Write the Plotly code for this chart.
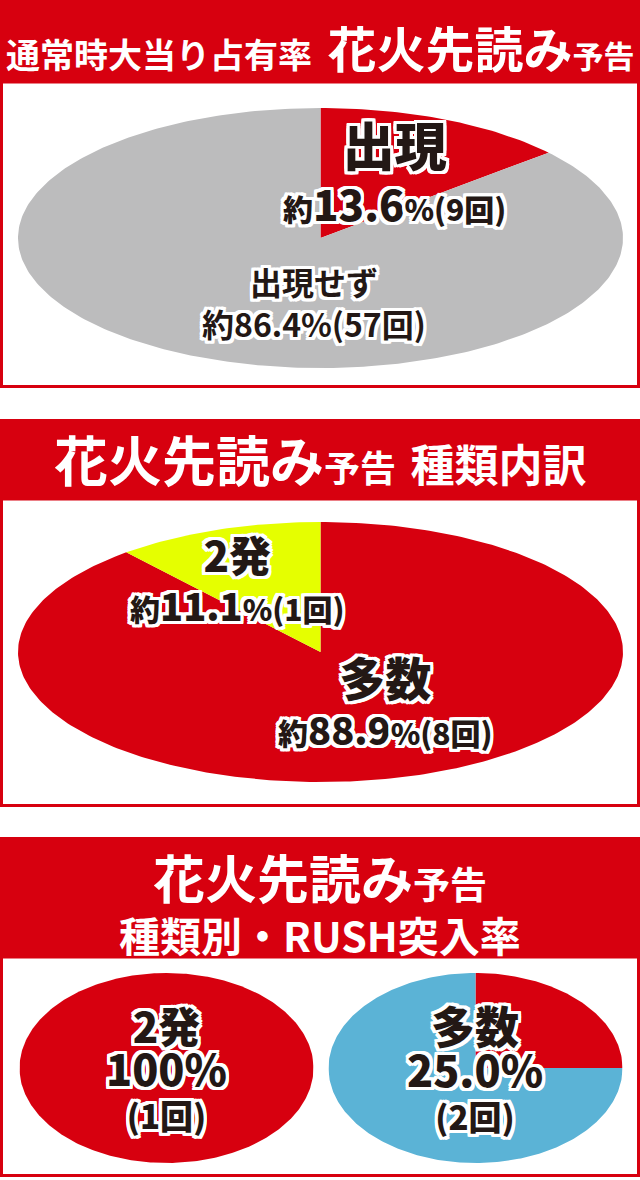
import numpy as np
import plotly.graph_objects as go

# data
occ_labels = ["出現", "出現せず"]
occ_pct = [13.6, 86.4]
occ_count = [9, 57]

kind_labels = ["多数", "2発"]
kind_pct = [88.9, 11.1]
kind_count = [8, 1]

rush_labels = ["2発", "多数"]
rush_2hatsu_pct = [100.0]
rush_2hatsu_count = 1
rush_tasuu_pct = [25.0, 75.0]
rush_tasuu_count = 2

RED = "#D7000F"
GRAY = "#BCBCBD"
YELLOW = "#E5FF00"
BLUE = "#5BB3D6"
INK = "#231815"
FONT = "Noto Sans CJK JP"

W, H = 640, 1180


def px(x):
    return x / W


def py(y):
    return 1 - y / H


OUTLINE = ", ".join(
    f"{dx}px {dy}px 0 #fff"
    for dx in (-3, -2, 0, 2, 3)
    for dy in (-3, -2, 0, 2, 3)
    if (dx, dy) != (0, 0)
)


def wedges(values):
    # slices clockwise from 12 o'clock on a unit circle, axes stretch it to an ellipse
    total = sum(values)
    out = []
    start = 0.0
    for v in values:
        end = start + v / total * 2 * np.pi
        t = np.linspace(start, end, max(int((end - start) * 60), 4))
        x = np.sin(t)
        y = np.cos(t)
        if v < total:
            x = np.concatenate([[0], x, [0]])
            y = np.concatenate([[0], y, [0]])
        out.append((x, y))
        start = end
    return out


fig = go.Figure()

pies = [
    (occ_pct, [RED, GRAY], "x", "y"),
    (kind_pct, [RED, YELLOW], "x2", "y2"),
    (rush_2hatsu_pct, [RED], "x3", "y3"),
    (rush_tasuu_pct, [RED, BLUE], "x4", "y4"),
]
for vals, cols, xa, ya in pies:
    for (x, y), c in zip(wedges(vals), cols):
        fig.add_trace(go.Scatter(x=x, y=y, xaxis=xa, yaxis=ya, mode="lines",
                                 fill="toself", fillcolor=c, line=dict(width=0),
                                 hoverinfo="skip", showlegend=False))

# panels: red header + framed white box
shapes = []
for top, mid, bottom in [(0, 82, 388), (419, 499, 807), (837, 957, 1177)]:
    shapes.append(dict(type="rect", xref="paper", yref="paper", layer="below",
                       x0=0, x1=1, y0=py(mid), y1=py(top),
                       fillcolor=RED, line=dict(width=0)))
    shapes.append(dict(type="rect", xref="paper", yref="paper", layer="below",
                       x0=px(1.5), x1=px(638.5), y0=py(bottom - 1.5), y1=py(mid),
                       fillcolor="white", line=dict(color=RED, width=3)))

ann = []


def header(text, x, y, size=32):
    ann.append(dict(text=text, x=px(x), y=py(y), xref="paper", yref="paper",
                    showarrow=False, xanchor="center", yanchor="middle",
                    font=dict(family=FONT, color="white", size=size, weight=700)))


def label(text, x, y, size, weight=900):
    ann.append(dict(text=text, x=px(x), y=py(y), xref="paper", yref="paper",
                    showarrow=False, xanchor="center", yanchor="middle",
                    font=dict(family=FONT, color=INK, size=size, weight=weight,
                              shadow=OUTLINE)))


def sm(t, s=30):
    return f"<span style='font-size:{s}px'>{t}</span>"


def pct_line(p, n):
    return sm("約") + f"{p}" + sm(f"%({n}回)")


GAP = "\u00a0"
header("通常時大当り占有率" + GAP + GAP + sm("花火先読み", 49) + sm("予告", 31), 320, 46, 34)
header(sm("花火先読み", 54) + sm("予告", 36) + GAP + GAP + sm("種類内訳", 44), 320, 458)
header(sm("花火先読み", 52) + sm("予告", 37) + "<br>種類別・RUSH突入率", 320, 901, 41)

label(sm(occ_labels[0], 52) + "<br>" + pct_line(occ_pct[0], occ_count[0]), 394, 169, 42)
label(f"{occ_labels[1]}<br>約{occ_pct[1]}%({occ_count[1]}回)", 314, 302, 32, 700)

label(sm(kind_labels[1], 42) + "<br>" + pct_line(kind_pct[1], kind_count[1]), 237, 578, 38)
label(sm(kind_labels[0], 46) + "<br>" + pct_line(kind_pct[0], kind_count[0]), 385, 699, 38)

label(sm(rush_labels[0], 42) + "<br>" + sm(f"{rush_2hatsu_pct[0]:.0f}%", 43)
      + "<br>" + f"({rush_2hatsu_count}回)", 166, 1066, 33)
label(sm(rush_labels[1], 44) + "<br>" + sm(f"{rush_tasuu_pct[0]:.1f}%", 43)
      + "<br>" + f"({rush_tasuu_count}回)", 475, 1066, 33)

ax = dict(visible=False, range=[-1.0, 1.0], fixedrange=True)
fig.update_layout(
    width=W, height=H, margin=dict(l=0, r=0, t=0, b=0),
    paper_bgcolor="white", plot_bgcolor="rgba(0,0,0,0)",
    shapes=shapes, annotations=ann,
    xaxis=dict(ax, domain=[px(18), px(623)]),
    yaxis=dict(ax, domain=[py(368), py(108)]),
    xaxis2=dict(ax, domain=[px(18), px(623)]),
    yaxis2=dict(ax, domain=[py(782), py(522)]),
    xaxis3=dict(ax, domain=[px(19.5), px(313.5)]),
    yaxis3=dict(ax, domain=[py(1163), py(973)]),
    xaxis4=dict(ax, domain=[px(328.5), px(622.5)]),
    yaxis4=dict(ax, domain=[py(1163), py(973)]),
)

fig.write_html("out.html", config={"displayModeBar": False},
               post_script=["document.body.style.margin='0';"])
